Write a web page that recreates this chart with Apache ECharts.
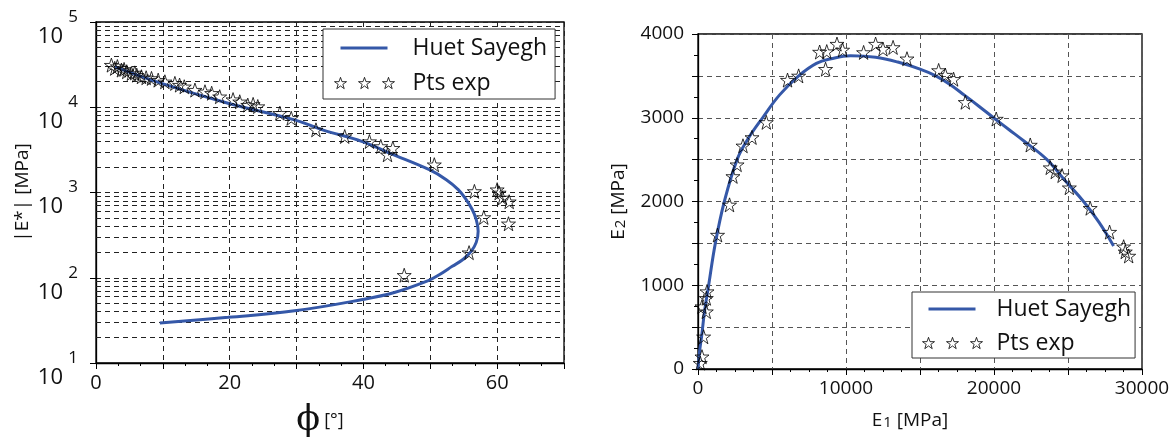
<!DOCTYPE html>
<html>
<head>
<meta charset="utf-8">
<script src="https://cdn.jsdelivr.net/npm/echarts@6/dist/echarts.min.js"></script>
<style>
  html, body { margin: 0; padding: 0; background: #fff; }
  #chart { width: 1176px; height: 443px; }
</style>
</head>
<body>
<div id="chart"></div>
<script>
// ---- data ----------------------------------------------------------------
const seriesNames = ['Huet Sayegh', 'Pts exp'];

// Black diagram: phase angle [deg] vs |E*| [MPa]
const modelPhiModulus = [
  [2.84, 29800], [9.81, 19050], [19.75, 11150], [29.7, 7110], [33.88, 5430],
  [39.85, 3960], [43.88, 2900], [49.85, 1850], [52.39, 1415], [54.18, 1081],
  [55.37, 826], [56.27, 631], [56.87, 482], [57.16, 352], [56.87, 260],
  [56.12, 204], [54.93, 165], [53.28, 136], [51.34, 108.4], [49.6, 91.8],
  [44.63, 67.1], [39.66, 55.1], [29.7, 40.9], [19.75, 34.3], [9.55, 29.4]
];
const expPhiModulus = [
  [2.3, 31200], [2.8, 28600], [3.2, 30000], [3.8, 27300], [4.2, 27800],
  [4.6, 26100], [5.3, 24900], [5.8, 25300], [6.1, 23800], [6.8, 22800],
  [7.5, 22200], [8.3, 21800], [9.3, 20800], [10.3, 19900], [11.8, 19050],
  [12.5, 18200], [13.2, 17400], [14.8, 15900], [16.3, 15200], [17.3, 14600],
  [18.5, 13300], [20.5, 12300], [21.5, 11600], [22.7, 10600], [23.5, 10800],
  [24.2, 10200], [27.5, 8510], [29.2, 7430], [32.9, 5430], [37.2, 4540],
  [40.9, 3960], [42.6, 3470], [44.4, 3310], [43.6, 2770], [50.6, 2120],
  [56.6, 1030], [60.0, 1080], [60.3, 990], [60.8, 865], [61.8, 780],
  [58.0, 510], [61.7, 430], [55.8, 197], [46.1, 107]
];
const modulusMinorGrid = [
  20, 30, 40, 50, 60, 70, 80, 90,
  200, 300, 400, 500, 600, 700, 800, 900,
  2000, 3000, 4000, 5000, 6000, 7000, 8000, 9000,
  20000, 30000, 40000, 50000, 60000, 70000, 80000, 90000
];
const phiTickLabels = [0, 20, 40, 60];

// Cole-Cole plane: E1 [MPa] vs E2 [MPa]
const modelColeCole = [
  [0, 0], [100, 200], [250, 400], [450, 700], [720, 1000], [1170, 1500],
  [1780, 2000], [2640, 2500], [3350, 2740], [4365, 3000], [5500, 3270],
  [6800, 3500], [8000, 3650], [9000, 3705], [10300, 3740], [12000, 3722],
  [13500, 3665], [15000, 3580], [16000, 3505], [17000, 3400], [18000, 3270],
  [19000, 3135], [19970, 3000], [21000, 2860], [22000, 2725], [23580, 2500],
  [24800, 2250], [26050, 2000], [27100, 1750], [28080, 1470]
];
const expColeCole = [
  [155, 70], [270, 147], [380, 385], [560, 685], [270, 745], [560, 845],
  [610, 925], [1320, 1600], [2130, 1960], [2360, 2300], [2640, 2440],
  [3040, 2665], [3650, 2765], [4615, 2945], [6050, 3450], [6800, 3500],
  [8220, 3785], [8700, 3790], [9390, 3880], [9770, 3810], [8620, 3580],
  [11190, 3780], [12000, 3880], [12500, 3820], [13180, 3840], [14120, 3705],
  [16260, 3565], [16710, 3510], [17270, 3460], [18060, 3185], [20150, 2985],
  [22450, 2675], [23800, 2405], [24140, 2355], [24600, 2310], [25090, 2165],
  [26500, 1920], [27810, 1635], [28760, 1460], [28870, 1400], [29100, 1350]
];
const e1TickLabels = [0, 10000, 20000, 30000];
const e2TickLabels = [0, 1000, 2000, 3000, 4000];

// ---- styling -------------------------------------------------------------
const FONT = 'Open Sans';
const MODEL_COLOR = '#3558a8';
const STAR = 'path://M50,2 L61.8,36.2 L97.6,36.2 L68.6,57.4 L79.4,91.6 L50,70.4 L20.6,91.6 L31.4,57.4 L2.4,36.2 L38.2,36.2 Z';
// legend keys: a row of three stars, and a short stroke framed in the same box
const STAR3 = 'path://M50,2 L61.8,36.2 L97.6,36.2 L68.6,57.4 L79.4,91.6 L50,70.4 L20.6,91.6 L31.4,57.4 L2.4,36.2 L38.2,36.2 Z ' +
  'M240,2 L251.8,36.2 L287.6,36.2 L258.6,57.4 L269.4,91.6 L240,70.4 L210.6,91.6 L221.4,57.4 L192.4,36.2 L228.2,36.2 Z ' +
  'M430,2 L441.8,36.2 L477.6,36.2 L448.6,57.4 L459.4,91.6 L430,70.4 L400.6,91.6 L411.4,57.4 L382.4,36.2 L418.2,36.2 Z';
const STROKE = 'path://M0,0 M60,12 M6,4.6 L53,4.6 L53,7.4 L6,7.4 Z';

const gridDash = { type: [5, 4], color: '#222', width: 1 };
const gridDashGrey = { type: [5, 4], color: '#555', width: 1 };
const axisLine = { show: true, onZero: false, lineStyle: { color: '#000', width: 1.3 } };
const tickLabel = { color: '#111', fontFamily: FONT, fontSize: 19 };
const starStyle = { color: 'rgba(255,255,255,0)', borderColor: '#000', borderWidth: 1 };

const chart = echarts.init(document.getElementById('chart'), null, { renderer: 'canvas' });

const legendCommon = {
  orient: 'vertical',
  backgroundColor: '#fff',
  borderColor: '#333',
  borderWidth: 1,
  borderRadius: 0,
  itemWidth: 60,
  itemHeight: 12,
  itemGap: 7,
  selectedMode: false,
  textStyle: { fontFamily: FONT, fontSize: 23, color: '#111', lineHeight: 28 }
};
const legendItems = [
  { name: seriesNames[0], icon: STROKE, itemStyle: { color: MODEL_COLOR, borderWidth: 0, opacity: 1 } },
  { name: seriesNames[1], icon: STAR3, itemStyle: { color: '#fff', borderColor: '#000', borderWidth: 1 } }
];

chart.setOption({
  animation: false,
  backgroundColor: '#fff',
  grid: [
    { left: 96, top: 22, width: 468, height: 342, show: true, borderColor: '#000', borderWidth: 1.3, backgroundColor: 'transparent' },
    { left: 698, top: 34, width: 444, height: 335, show: true, borderColor: '#000', borderWidth: 1.3, backgroundColor: 'transparent' }
  ],
  legend: [
    Object.assign({}, legendCommon, {
      left: 323, top: 29,
      padding: [5, 8, 2, 11],
      data: legendItems,
      textStyle: Object.assign({}, legendCommon.textStyle, { padding: [0, 0, 0, 13] })
    }),
    Object.assign({}, legendCommon, {
      left: 912, top: 292,
      itemGap: 6,
      padding: [3, 4, 1, 10],
      data: legendItems,
      textStyle: Object.assign({}, legendCommon.textStyle, { padding: [0, 0, 0, 9] })
    })
  ],
  xAxis: [
    {
      gridIndex: 0, type: 'value', min: 0, max: 70, interval: 10,
      axisLine: axisLine,
      axisTick: { show: true, length: 6, lineStyle: { color: '#000' } },
      minorTick: { show: true, splitNumber: 3, length: 3, lineStyle: { color: '#000' } },
      splitLine: { show: true, lineStyle: gridDash },
      axisLabel: Object.assign({}, tickLabel, {
        fontSize: 20, margin: 10,
        formatter: v => phiTickLabels.includes(v) ? String(v) : ''
      }),
      name: '{p|\u03D5}{u|[°]}',
      nameLocation: 'middle',
      nameGap: 40,
      nameTextStyle: {
        padding: [0, 20, 0, 0],
        rich: {
          p: { fontFamily: 'DejaVu Serif', fontSize: 35, color: '#111', verticalAlign: 'middle' },
          u: { fontFamily: FONT, fontSize: 18, color: '#111', padding: [0, 0, 0, 4], verticalAlign: 'middle' }
        }
      }
    },
    {
      gridIndex: 1, type: 'value', min: 0, max: 30000, interval: 5000,
      axisLine: axisLine,
      axisTick: { show: true, length: 6, lineStyle: { color: '#000' } },
      minorTick: { show: true, splitNumber: 4, length: 3, lineStyle: { color: '#000' } },
      splitLine: { show: true, lineStyle: gridDashGrey },
      axisLabel: Object.assign({}, tickLabel, {
        margin: 10,
        formatter: v => e1TickLabels.includes(v) ? String(v) : ''
      }),
      name: '{a|E}{s|1}{a| [MPa]}',
      nameLocation: 'middle',
      nameGap: 42,
      nameTextStyle: {
        padding: [0, 20, 0, 0],
        rich: {
          a: { fontFamily: FONT, fontSize: 19, color: '#111' },
          s: { fontFamily: FONT, fontSize: 15, color: '#111', padding: [4, 0, 0, 1] }
        }
      }
    }
  ],
  yAxis: [
    {
      gridIndex: 0, type: 'log', logBase: 10, min: 10, max: 100000,
      axisLine: axisLine,
      axisTick: { show: true, length: 6, lineStyle: { color: '#000' } },
      splitLine: { show: true, lineStyle: gridDash },
      axisLabel: {
        margin: 18,
        formatter: v => '{e|' + Math.round(Math.log10(v)) + '}\n{b|10}',
        rich: {
          e: { fontFamily: FONT, fontSize: 17, color: '#111', padding: [12, 0, 0, 0] },
          b: { fontFamily: FONT, fontSize: 22, color: '#111', padding: [0, 15, 0, 0] }
        }
      },
      name: '|E*| [MPa]',
      nameLocation: 'middle',
      nameGap: 64,
      nameTextStyle: { fontFamily: FONT, fontSize: 19, color: '#111' }
    },
    {
      gridIndex: 1, type: 'value', min: 0, max: 4000, interval: 500,
      axisLine: axisLine,
      axisTick: { show: true, length: 6, lineStyle: { color: '#000' } },
      minorTick: { show: true, splitNumber: 2, length: 4, lineStyle: { color: '#000' } },
      splitLine: { show: true, lineStyle: gridDashGrey },
      axisLabel: Object.assign({}, tickLabel, {
        margin: 14,
        formatter: v => e2TickLabels.includes(v) ? String(v) : ''
      }),
      name: '{a|E}{s|2}{a| [MPa]}',
      nameLocation: 'middle',
      nameGap: 70,
      nameTextStyle: {
        rich: {
          a: { fontFamily: FONT, fontSize: 19, color: '#111' },
          s: { fontFamily: FONT, fontSize: 15, color: '#111', padding: [4, 0, 0, 1] }
        }
      }
    }
  ],
  series: [
    {
      name: seriesNames[0], type: 'line', xAxisIndex: 0, yAxisIndex: 0,
      data: modelPhiModulus, smooth: 0.4, symbol: 'none',
      lineStyle: { color: MODEL_COLOR, width: 3 }, itemStyle: { color: MODEL_COLOR },
      z: 3,
      markLine: {
        silent: true, symbol: 'none', label: { show: false },
        lineStyle: gridDash, z: 1,
        data: modulusMinorGrid.map(v => ({ yAxis: v }))
      }
    },
    {
      name: seriesNames[1], type: 'scatter', xAxisIndex: 0, yAxisIndex: 0,
      data: expPhiModulus, symbol: STAR, symbolSize: 14,
      itemStyle: starStyle, z: 4
    },
    {
      name: seriesNames[0], type: 'line', xAxisIndex: 1, yAxisIndex: 1,
      data: modelColeCole, smooth: 0.4, symbol: 'none',
      lineStyle: { color: MODEL_COLOR, width: 3 }, itemStyle: { color: MODEL_COLOR },
      z: 3
    },
    {
      name: seriesNames[1], type: 'scatter', xAxisIndex: 1, yAxisIndex: 1,
      data: expColeCole, symbol: STAR, symbolSize: 14,
      itemStyle: starStyle, z: 4
    }
  ]
});
</script>
</body>
</html>
